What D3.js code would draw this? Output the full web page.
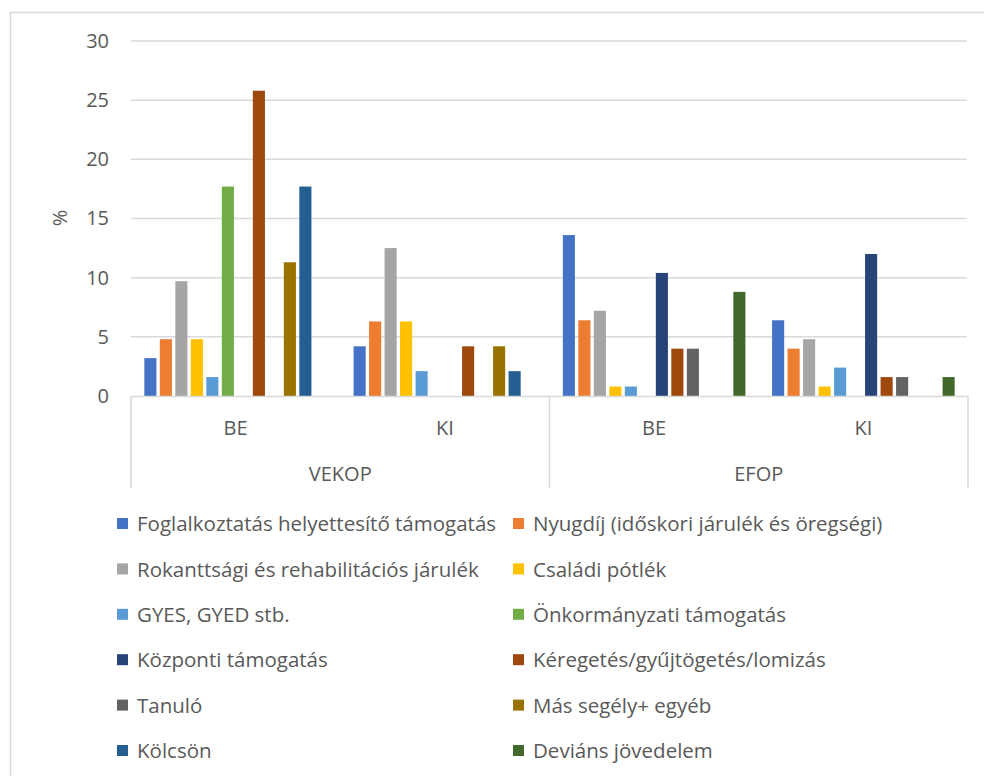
<!DOCTYPE html>
<html>
<head>
<meta charset="utf-8">
<script src="https://cdn.jsdelivr.net/npm/d3@7"></script>
<style>
  html, body { margin: 0; padding: 0; background: #fff; }
  svg { display: block; font-family: "Open Sans", "Noto Sans", sans-serif; }
</style>
</head>
<body>
<svg id="chart" width="984" height="776"></svg>
<script>
// Programme groups and the two time points inside each
const programmes = ["VEKOP", "EFOP"];
const phases = ["BE", "KI"];

// Income sources (legend order)
const sources = [
  "Foglalkoztatás helyettesítő támogatás",
  "Nyugdíj (időskori járulék és öregségi)",
  "Rokanttsági és rehabilitációs járulék",
  "Családi pótlék",
  "GYES, GYED stb.",
  "Önkormányzati támogatás",
  "Központi támogatás",
  "Kéregetés/gyűjtögetés/lomizás",
  "Tanuló",
  "Más segély+ egyéb",
  "Kölcsön",
  "Deviáns jövedelem"
];

const colors = [
  "#4472C4", "#ED7D31", "#A5A5A5", "#FFC000", "#5B9BD5", "#70AD47",
  "#264478", "#9E480E", "#636363", "#997300", "#255E91", "#43682B"
];

// Share (%) per source, columns: VEKOP BE, VEKOP KI, EFOP BE, EFOP KI
const foglalkoztatas = [3.2, 4.2, 13.6, 6.4];
const nyugdij        = [4.8, 6.3, 6.4, 4.0];
const rokkant        = [9.7, 12.5, 7.2, 4.8];
const csaladi        = [4.8, 6.3, 0.8, 0.8];
const gyes           = [1.6, 2.1, 0.8, 2.4];
const onkormanyzati  = [17.7, 0, 0, 0];
const kozponti       = [0, 0, 10.4, 12.0];
const keregetes      = [25.8, 4.2, 4.0, 1.6];
const tanulo         = [0, 0, 4.0, 1.6];
const masSegely      = [11.3, 4.2, 0, 0];
const kolcson        = [17.7, 2.1, 0, 0];
const devians        = [0, 0, 8.8, 1.6];

const seriesValues = [foglalkoztatas, nyugdij, rokkant, csaladi, gyes, onkormanyzati,
                      kozponti, keregetes, tanulo, masSegely, kolcson, devians];

const yTicks = [0, 5, 10, 15, 20, 25, 30];

const textColor = "#595959";
const gridColor = "#d9d9d9";
const fontSize = "20px";
const legendFontSize = "20.5px";

const svg = d3.select("#chart");

// Outer chart frame
svg.append("rect")
  .attr("x", 10.5).attr("y", 12.5)
  .attr("width", 1000).attr("height", 800)
  .attr("fill", "none").attr("stroke", gridColor).attr("stroke-width", 1.5);

const plot = { left: 131, right: 968, top: 41, bottom: 396 };

// One column of bars per programme × phase
const columns = [];
programmes.forEach(p => phases.forEach(ph => columns.push(p + "|" + ph)));

const x0 = d3.scaleBand().domain(columns).range([plot.left, plot.right]).padding(0);
const x1 = d3.scaleBand().domain(d3.range(sources.length))
  .range([0, x0.bandwidth()])
  .paddingInner(0.22).paddingOuter(0.86);
const y = d3.scaleLinear().domain([0, 30]).range([plot.bottom, plot.top]);

// Horizontal gridlines
svg.append("g")
  .selectAll("line")
  .data(yTicks.filter(t => t > 0))
  .join("line")
  .attr("x1", plot.left).attr("x2", plot.right - 1)
  .attr("y1", d => y(d)).attr("y2", d => y(d))
  .attr("stroke", gridColor).attr("stroke-width", 1.5);

// Y axis tick labels
const yAxis = d3.axisLeft(y).tickValues(yTicks).tickSize(0).tickPadding(0);
const yg = svg.append("g").attr("transform", `translate(${plot.left - 22},0)`).call(yAxis);
yg.select(".domain").remove();
yg.selectAll("text")
  .attr("fill", textColor)
  .style("font-size", fontSize)
  .style("font-family", "'Open Sans', sans-serif");

// Y axis title
svg.append("text")
  .attr("transform", "translate(67,218) rotate(-90)")
  .attr("text-anchor", "middle")
  .attr("fill", textColor)
  .style("font-size", fontSize)
  .text("%");

// Bars
const barData = [];
seriesValues.forEach((vals, si) => {
  vals.forEach((v, ci) => {
    if (v > 0) barData.push({ series: si, column: columns[ci], value: v });
  });
});

svg.append("g")
  .selectAll("rect")
  .data(barData)
  .join("rect")
  .attr("x", d => x0(d.column) + x1(d.series))
  .attr("width", x1.bandwidth())
  .attr("y", d => y(d.value))
  .attr("height", d => y(0) - y(d.value))
  .attr("fill", d => colors[d.series]);

// Category axis baseline and separators
const axisBottom = 488;
svg.append("line")
  .attr("x1", plot.left).attr("x2", plot.right)
  .attr("y1", plot.bottom + 0.5).attr("y2", plot.bottom + 0.5)
  .attr("stroke", gridColor).attr("stroke-width", 1.5);

const separators = [plot.left, x0(programmes[1] + "|" + phases[0]), plot.right];
svg.append("g")
  .selectAll("line")
  .data(separators)
  .join("line")
  .attr("x1", d => d).attr("x2", d => d)
  .attr("y1", plot.bottom).attr("y2", axisBottom)
  .attr("stroke", gridColor).attr("stroke-width", 1.5);

// Inner category labels (BE / KI)
svg.append("g")
  .selectAll("text")
  .data(columns)
  .join("text")
  .attr("x", d => x0(d) + x0.bandwidth() / 2)
  .attr("y", 435)
  .attr("text-anchor", "middle")
  .attr("fill", textColor)
  .style("font-size", fontSize)
  .text(d => d.split("|")[1]);

// Outer category labels (programmes)
svg.append("g")
  .selectAll("text")
  .data(programmes)
  .join("text")
  .attr("x", p => x0(p + "|" + phases[0]) + x0.bandwidth())
  .attr("y", 481)
  .attr("text-anchor", "middle")
  .attr("fill", textColor)
  .style("font-size", fontSize)
  .text(p => p);

// Legend: two columns, filled row by row
const legend = svg.append("g");
const legendCols = [117, 513];
const legendRow0 = 524, legendStep = 45.4;
const items = legend.selectAll("g")
  .data(sources)
  .join("g")
  .attr("transform", (d, i) => `translate(${legendCols[i % 2]},${legendRow0 + Math.floor(i / 2) * legendStep})`);
items.append("rect")
  .attr("x", 0).attr("y", -6).attr("width", 11).attr("height", 11)
  .attr("fill", (d, i) => colors[i]);
items.append("text")
  .attr("x", 20).attr("y", 0)
  .attr("dy", "0.35em")
  .attr("fill", textColor)
  .style("font-size", legendFontSize)
  .text(d => d);
</script>
</body>
</html>
